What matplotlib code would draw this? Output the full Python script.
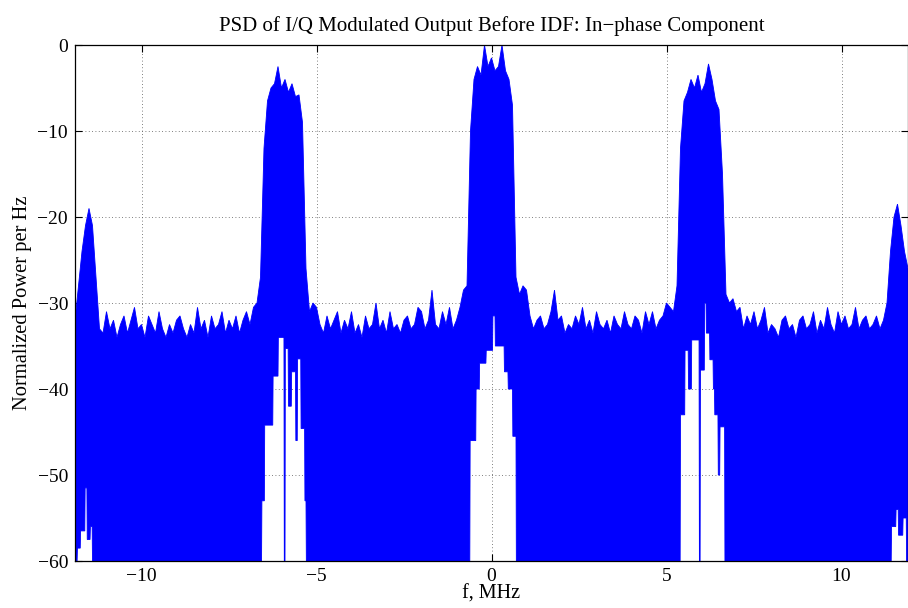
import numpy as np
import matplotlib
matplotlib.use("Agg")
import matplotlib.pyplot as plt

# ---------------- data ----------------
# frequency grid (MHz) for the upper envelope of the PSD trace
freq_mhz = np.round(np.arange(-11.9, 11.9001, 0.1), 2)

# upper envelope of the PSD trace (dB), one value per grid frequency
psd_upper_db = [
    # -11.9 .. -11.2 (edge lobe)
    -32, -28, -24, -21, -19, -21, -27, -33,
    # -11.1 .. -6.7 (floor)
    -33.5, -31.0, -33.0, -32.0, -34.0, -32.5, -31.5, -33.5, -32.0, -30.5,
    -33.0, -32.5, -34.0, -31.5, -32.5, -33.5, -31.0, -33.0, -34.0, -32.5,
    -33.5, -32.0, -31.5, -33.0, -34.0, -32.5, -33.5, -30.5, -33.0, -32.0,
    -34.0, -31.5, -33.0, -32.5, -31.0, -33.5, -32.0, -33.0, -31.5, -33.5,
    -32.0, -31.0, -32.5, -30.5, -30.0,
    # -6.6 .. -5.2 (lobe at -6 MHz)
    -27, -12, -6.5, -5.0, -4.5, -2.5, -5.0, -4.0, -5.5, -4.5, -6.0, -5.8, -9.0, -26, -31.0,
    # -5.1 .. -0.8 (floor)
    -30.0, -30.5, -32.5, -33.5, -31.5, -33.0, -32.0, -31.0, -33.5, -32.0,
    -33.0, -31.0, -33.5, -32.5, -34.0, -31.5, -33.0, -32.5, -30.0, -33.0,
    -32.0, -33.5, -31.0, -33.0, -32.5, -33.5, -32.0, -31.5, -33.0, -32.5,
    -30.5, -31.0, -33.0, -32.0, -28.5, -32.5, -33.0, -31.0, -32.5, -30.5,
    -33.0, -32.0, -30.5, -28.5,
    # -0.7 .. 0.7 (main lobe)
    -28, -10, -4, -2.5, -3.5, 0.0, -2.5, -1.5, -3.0, -2.5, 0.0, -3.0, -4.0, -7.0, -27,
    # 0.8 .. 5.2 (floor)
    -29.0, -28.0, -28.5, -31.5, -33.0, -32.0, -31.5, -33.0, -32.5, -31.0,
    -28.5, -32.0, -31.5, -33.5, -32.5, -33.0, -31.5, -32.5, -30.5, -33.0,
    -32.0, -33.5, -31.0, -32.5, -33.0, -32.0, -33.5, -31.5, -32.5, -33.0,
    -31.0, -32.5, -33.0, -31.5, -32.0, -33.5, -31.0, -32.5, -31.0, -33.0,
    -32.0, -31.5, -30.0, -30.5, -31.0,
    # 5.3 .. 6.7 (lobe at +6 MHz)
    -28, -12, -6.5, -5.5, -4.0, -5.0, -3.5, -5.5, -4.5, -2.2, -4.0, -6.5, -7.5, -15, -29,
    # 6.8 .. 11.2 (floor)
    -30.0, -29.5, -31.0, -30.5, -33.0, -31.5, -32.5, -31.0, -33.0, -32.0,
    -30.5, -33.5, -32.5, -33.0, -34.0, -32.0, -31.5, -33.0, -32.5, -34.0,
    -32.0, -31.5, -33.0, -32.5, -31.0, -33.5, -32.0, -33.0, -30.5, -32.5,
    -33.5, -31.0, -32.5, -31.5, -33.0, -32.5, -30.5, -33.0, -32.0, -31.5,
    -33.0, -32.5, -31.5, -33.0, -32.0,
    # 11.3 .. 11.9 (edge lobe)
    -30, -24, -20, -18.5, -21, -24, -26,
]

# lower envelope inside the white gaps (f in MHz, level in dB)
gap_left_edge_f = [-11.84, -11.83, -11.75, -11.74, -11.62, -11.61, -11.56, -11.55, -11.47, -11.46, -11.41, -11.40]
gap_left_edge_db = [-60, -58.5, -58.5, -56.5, -56.5, -51.5, -51.5, -57.5, -57.5, -56.0, -56.0, -60]

gap_m6_f = [-6.57, -6.56, -6.49, -6.48, -6.25, -6.24, -6.10, -6.09, -5.93, -5.92, -5.90, -5.89,
            -5.81, -5.80, -5.72, -5.71, -5.60, -5.59, -5.55, -5.54, -5.45, -5.44, -5.34, -5.33, -5.30, -5.29]
gap_m6_db = [-60, -53, -53, -44.2, -44.2, -38.5, -38.5, -34, -34, -60, -60, -35.3,
             -35.3, -42, -42, -38, -38, -46, -46, -36.5, -36.5, -44.6, -44.6, -53, -53, -60]

gap_center_f = [-0.62, -0.61, -0.45, -0.44, -0.35, -0.34, -0.16, -0.15, 0.03, 0.04, 0.10, 0.11,
                0.36, 0.37, 0.47, 0.48, 0.60, 0.61, 0.70, 0.71]
gap_center_db = [-60, -46, -46, -40, -40, -37, -37, -35.5, -35.5, -31.5, -31.5, -35,
                 -35, -38, -38, -40, -40, -45.5, -45.5, -60]

gap_p6_f = [5.39, 5.40, 5.52, 5.53, 5.62, 5.63, 5.71, 5.72, 5.93, 5.94, 5.96, 5.97, 6.08, 6.09,
            6.13, 6.14, 6.23, 6.24, 6.33, 6.34, 6.37, 6.38, 6.47, 6.48, 6.52, 6.53, 6.66, 6.67]
gap_p6_db = [-60, -43, -43, -35.5, -35.5, -40, -40, -34.3, -34.3, -60, -60, -37.8, -37.8, -30,
             -30, -33.5, -33.5, -36.6, -36.6, -40, -40, -43, -43, -50, -50, -44.4, -44.4, -60]

gap_right_edge_f = [11.42, 11.43, 11.55, 11.56, 11.62, 11.63, 11.75, 11.76, 11.85, 11.86]
gap_right_edge_db = [-60, -56, -56, -54, -54, -57, -57, -55, -55, -60]

title_text = "PSD of I/Q Modulated Output Before IDF: In\u2212phase Component"
xlabel_text = "f, MHz"
ylabel_text = "Normalized Power per Hz"
x_ticks = [-10, -5, 0, 5, 10]
y_ticks = [-60, -50, -40, -30, -20, -10, 0]

# ---------------- drawing ----------------
plt.rcParams['font.family'] = ['Liberation Serif', 'DejaVu Serif']
plt.rcParams['axes.unicode_minus'] = True

fig = plt.figure(figsize=(9.08, 6.08), dpi=100)
ax = fig.add_axes([75 / 908, 47 / 608, (908 - 75) / 908, (561 - 45) / 608])

f_lo = freq_mhz[0]
f_hi = freq_mhz[-1]
lower_f = ([f_hi] + gap_right_edge_f[::-1] + gap_p6_f[::-1] + gap_center_f[::-1]
           + gap_m6_f[::-1] + gap_left_edge_f[::-1] + [f_lo])
lower_db = ([-60] + gap_right_edge_db[::-1] + gap_p6_db[::-1] + gap_center_db[::-1]
            + gap_m6_db[::-1] + gap_left_edge_db[::-1] + [-60])

poly_x = np.concatenate([freq_mhz, np.array(lower_f)])
poly_y = np.concatenate([np.array(psd_upper_db, dtype=float), np.array(lower_db, dtype=float)])
ax.fill(poly_x, poly_y, color='#0000ff', lw=0.6, ec='#0000ff', zorder=2)

ax.set_xlim(-11.9, 11.9)
ax.set_ylim(-60, 0)
ax.set_xticks(x_ticks)
ax.set_yticks(y_ticks)
ax.grid(True, linestyle=(0, (1, 3)), color='#555555', linewidth=0.6)
ax.set_axisbelow(True)
ax.tick_params(direction='in', top=True, right=True, length=5, width=0.8, labelsize=14, pad=5)
for s in ax.spines.values():
    s.set_linewidth(0.9)
    s.set_zorder(5)

ax.set_title(title_text, fontsize=15, pad=10)
ax.set_xlabel(xlabel_text, fontsize=14.5, labelpad=0)
ax.set_ylabel(ylabel_text, fontsize=14.8, labelpad=4)

fig.savefig("out.png", dpi=100)
